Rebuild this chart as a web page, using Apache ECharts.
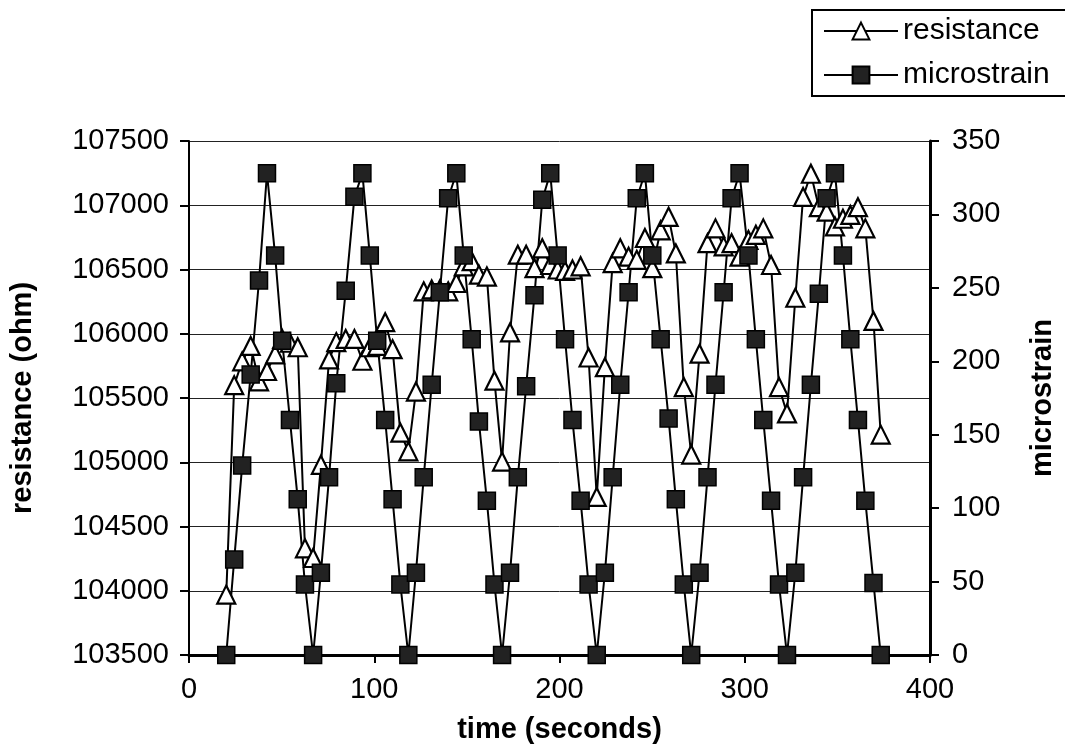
<!DOCTYPE html>
<html>
<head>
<meta charset="utf-8">
<title>resistance vs microstrain</title>
<script src="https://cdn.jsdelivr.net/npm/echarts@6.0.0/dist/echarts.min.js"></script>
<style>
  html, body { margin: 0; padding: 0; background: #fff; }
  #myChart { width: 1065px; height: 751px; }
</style>
</head>
<body>
<div id="myChart"></div>
<script>
// time (seconds) - shared x values of both series
var timeSec = [
  20.1, 24.4, 28.7, 33.3, 37.8, 42.1, 46.5, 50.3, 54.5, 58.7, 62.6, 67.0,
  71.2, 75.6, 79.5, 84.6, 89.3, 93.6, 97.6, 101.6, 105.9, 109.9, 114.1, 118.4,
  122.5, 126.7, 131.0, 135.4, 139.9, 144.3, 148.3, 152.6, 156.5, 160.8, 164.9, 169.0,
  173.3, 177.5, 182.0, 186.5, 190.7, 195.0, 199.0, 203.0, 207.0, 211.4, 215.7, 220.1,
  224.5, 228.7, 232.8, 237.3, 241.7, 246.1, 250.1, 254.6, 258.9, 262.8, 267.1, 271.1,
  275.6, 279.9, 284.2, 288.6, 292.9, 297.2, 302.0, 306.0, 310.0, 314.2, 318.5, 322.8,
  327.3, 331.5, 335.7, 340.0, 344.2, 348.7, 353.0, 357.0, 361.1, 365.1, 369.5, 373.4
];
// resistance (ohm), left axis
var resistance = [
  103970, 105600, 105785, 105905, 105630, 105710, 105840, 105960, 105930, 105895, 104330, 104255,
  104980, 105800, 105935, 105960, 105960, 105790, 105895, 105905, 106090, 105880, 105230, 105085,
  105550, 106330, 106345, 106345, 106330, 106395, 106525, 106565, 106460, 106445, 105635, 105005,
  106010, 106615, 106615, 106510, 106665, 106535, 106500, 106490, 106500, 106525, 105815, 104730,
  105740, 106550, 106665, 106600, 106575, 106745, 106510, 106805, 106910, 106625, 105585, 105060,
  105845, 106705, 106820, 106680, 106705, 106600, 106730, 106770, 106820, 106535, 105585, 105380,
  106280, 107065, 107245, 106985, 106950, 106835, 106895, 106925, 106985, 106820, 106100, 105215
];
// microstrain, right axis
var microstrain = [
  0, 65, 129, 191, 255, 328, 272, 214, 160, 106, 48, 0,
  56, 121, 185, 248, 312, 328, 272, 214, 160, 106, 48, 0,
  56, 121, 184, 247, 311, 328, 272, 215, 159, 105, 48, 0,
  56, 121, 183, 245, 310, 328, 272, 215, 160, 105, 48, 0,
  56, 121, 184, 247, 311, 328, 272, 215, 161, 106, 48, 0,
  56, 121, 184, 247, 311, 328, 272, 215, 160, 105, 48, 0,
  56, 121, 184, 246, 311, 328, 272, 215, 160, 105, 49, 0
];
var xTicks = { min: 0, max: 400, step: 100 };
var leftTicks = { min: 103500, max: 107500, step: 500 };
var rightTicks = { min: 0, max: 350, step: 50 };

function pairs(xs, ys) {
  return xs.map(function (x, i) { return [x, ys[i]]; });
}

var font = "'Liberation Sans', Arial, sans-serif";
var myChart = echarts.init(document.getElementById("myChart"), null, { renderer: "canvas" });

myChart.setOption({
  animation: false,
  backgroundColor: "#fff",
  textStyle: { fontFamily: font, color: "#000" },
  legend: {
    orient: "vertical",
    left: 812,
    top: 10,
    padding: [6, 40, 6, 11],
    itemWidth: 74,
    itemHeight: 21,
    itemGap: 14,
    borderColor: "#000",
    borderWidth: 2,
    textStyle: { fontFamily: font, fontSize: 30, color: "#000" },
    data: ["resistance", "microstrain"]
  },
  grid: { left: 188, right: 130, top: 141, bottom: 96 },
  xAxis: {
    type: "value",
    min: xTicks.min,
    max: xTicks.max,
    interval: xTicks.step,
    name: "time (seconds)",
    nameLocation: "middle",
    nameGap: 60,
    nameTextStyle: { fontFamily: font, fontSize: 29, fontWeight: "bold", color: "#000" },
    axisLine: { lineStyle: { color: "#000", width: 3 } },
    axisTick: { show: true, length: 8, lineStyle: { color: "#000", width: 2 } },
    axisLabel: { margin: 20, fontSize: 29, color: "#000", fontFamily: font },
    splitLine: { show: false }
  },
  yAxis: [
    {
      type: "value",
      position: "left",
      min: leftTicks.min,
      max: leftTicks.max,
      interval: leftTicks.step,
      name: "resistance (ohm)",
      nameLocation: "middle",
      nameRotate: 90,
      nameGap: 152,
      nameTextStyle: { fontFamily: font, fontSize: 29, fontWeight: "bold", color: "#000" },
      axisLine: { show: true, lineStyle: { color: "#000", width: 2 } },
      axisTick: { show: true, length: 9, lineStyle: { color: "#000", width: 2 } },
      axisLabel: {
        margin: 20, fontSize: 29, color: "#000", fontFamily: font,
        formatter: function (v) { return String(v); }
      },
      splitLine: { show: true, lineStyle: { color: "#222", width: 1 } }
    },
    {
      type: "value",
      position: "right",
      min: rightTicks.min,
      max: rightTicks.max,
      interval: rightTicks.step,
      name: "microstrain",
      nameLocation: "middle",
      nameRotate: 90,
      nameGap: 98,
      nameTextStyle: { fontFamily: font, fontSize: 29, fontWeight: "bold", color: "#000" },
      axisLine: { show: true, lineStyle: { color: "#000", width: 3 } },
      axisTick: { show: true, length: 9, lineStyle: { color: "#000", width: 2 } },
      axisLabel: {
        margin: 22, fontSize: 29, color: "#000", fontFamily: font,
        formatter: function (v) { return String(v); }
      },
      splitLine: { show: false }
    }
  ],
  series: [
    {
      name: "resistance",
      type: "line",
      yAxisIndex: 0,
      data: pairs(timeSec, resistance),
      symbol: "triangle",
      symbolSize: 18,
      lineStyle: { color: "#000", width: 2 },
      itemStyle: { color: "#fff", borderColor: "#000", borderWidth: 2.2 }
    },
    {
      name: "microstrain",
      type: "line",
      yAxisIndex: 1,
      data: pairs(timeSec, microstrain),
      symbol: "rect",
      symbolSize: 17,
      lineStyle: { color: "#000", width: 2 },
      itemStyle: { color: "#222", borderColor: "#000", borderWidth: 1.5 }
    }
  ]
});
</script>
</body>
</html>
